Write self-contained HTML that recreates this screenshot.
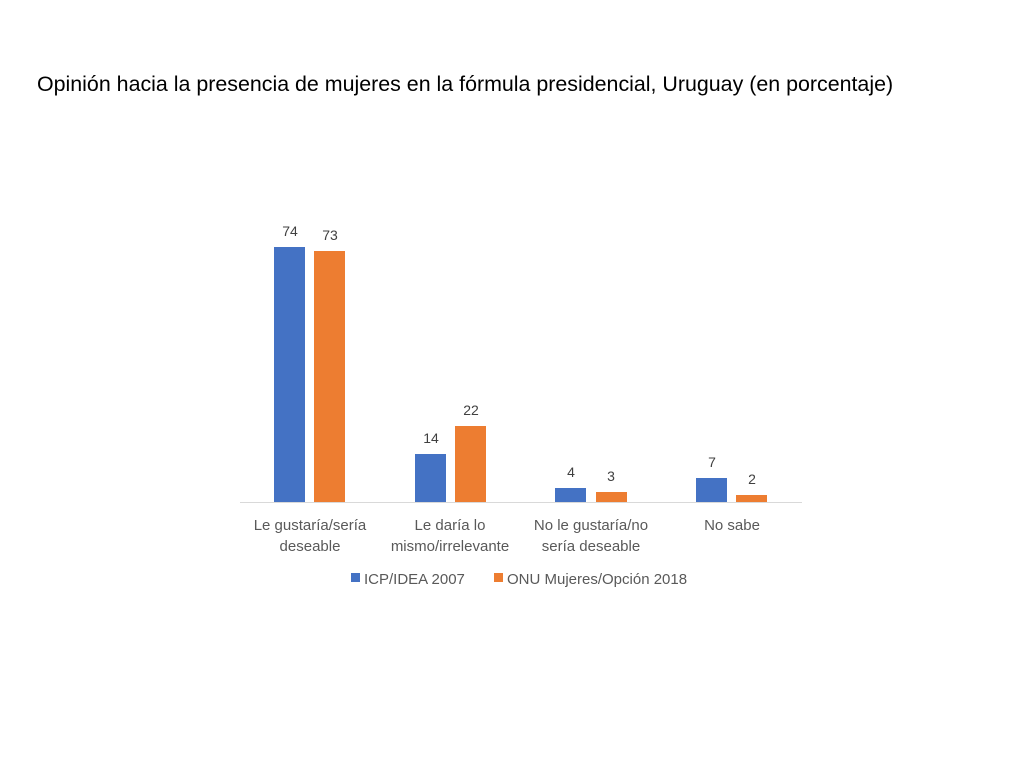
<!DOCTYPE html>
<html><head><meta charset="utf-8"><style>
body{margin:0;width:1024px;height:768px;background:#fff;overflow:hidden;font-family:"Liberation Sans",sans-serif}
</style></head><body>
<svg width="1024" height="768" xmlns="http://www.w3.org/2000/svg" font-family="Liberation Sans, sans-serif">
<text x="37" y="91" font-size="21.4" fill="#000">Opinión hacia la presencia de mujeres en la fórmula presidencial, Uruguay (en porcentaje)</text>
<line x1="240" y1="502.5" x2="802" y2="502.5" stroke="#d9d9d9" stroke-width="1"/>
<g fill="#4472c4">
<rect x="274" y="247" width="31" height="255"/>
<rect x="415" y="454" width="31" height="48"/>
<rect x="555" y="488" width="31" height="14"/>
<rect x="696" y="478" width="31" height="24"/>
<rect x="351" y="573" width="9" height="9"/>
</g>
<g fill="#ed7d31">
<rect x="314" y="251" width="31" height="251"/>
<rect x="455" y="426" width="31" height="76"/>
<rect x="596" y="492" width="31" height="10"/>
<rect x="736" y="495" width="31" height="7"/>
<rect x="494" y="573" width="9" height="9"/>
</g>
<g font-size="14" fill="#404040" text-anchor="middle">
<text x="290" y="236">74</text><text x="330" y="240">73</text>
<text x="431" y="443">14</text><text x="471" y="415">22</text>
<text x="571" y="477">4</text><text x="611" y="481">3</text>
<text x="712" y="467">7</text><text x="752" y="484">2</text>
</g>
<g font-size="15" fill="#595959" text-anchor="middle">
<text x="310" y="530">Le gustaría/sería</text><text x="310" y="551">deseable</text>
<text x="450" y="530">Le daría lo</text><text x="450" y="551">mismo/irrelevante</text>
<text x="591" y="530">No le gustaría/no</text><text x="591" y="551">sería deseable</text>
<text x="732" y="530">No sabe</text>
</g>
<g font-size="15" fill="#595959">
<text x="364" y="584">ICP/IDEA 2007</text>
<text x="507" y="584">ONU Mujeres/Opción 2018</text>
</g>
</svg>
</body></html>
